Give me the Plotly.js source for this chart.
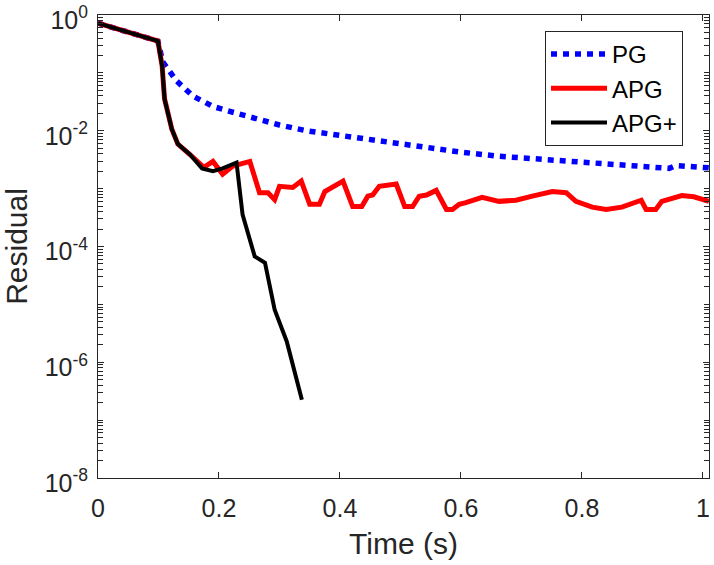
<!DOCTYPE html>
<html>
<head>
<meta charset="utf-8">
<script src="https://cdn.plot.ly/plotly-3.0.1.min.js"></script>
<style>html,body{margin:0;padding:0;background:#fff;}#chart{width:714px;height:565px;}</style>
</head>
<body>
<div id="chart"></div>
<script>
// ---- data ----
const pgTime = [0, 0.05, 0.099, 0.107, 0.13, 0.157, 0.19, 0.223, 0.262, 0.30, 0.345, 0.40, 0.444, 0.50, 0.553, 0.60, 0.663, 0.72, 0.774, 0.83, 0.883, 0.944, 0.955, 1.01];
const pgResidual = [0.724, 0.501, 0.355, 0.155, 0.0724, 0.0398, 0.0263, 0.0209, 0.0158, 0.0126, 0.0100, 0.00832, 0.00708, 0.00589, 0.00513, 0.00427, 0.00363, 0.00331, 0.00302, 0.00275, 0.00251, 0.00224, 0.00251, 0.00229];

const apgTime = [0, 0.05, 0.099, 0.106, 0.110, 0.122, 0.132, 0.152, 0.165, 0.175, 0.19, 0.206, 0.223, 0.251, 0.267, 0.281, 0.292, 0.30, 0.322, 0.336, 0.350, 0.366, 0.375, 0.388, 0.405, 0.421, 0.436, 0.446, 0.454, 0.465, 0.493, 0.507, 0.520, 0.531, 0.543, 0.559, 0.576, 0.586, 0.597, 0.608, 0.635, 0.663, 0.691, 0.718, 0.751, 0.774, 0.79, 0.817, 0.84, 0.866, 0.89, 0.898, 0.906, 0.922, 0.932, 0.965, 0.985, 1.01];
const apgResidual = [0.724, 0.501, 0.355, 0.132, 0.0355, 0.0107, 0.00589, 0.00389, 0.00282, 0.00234, 0.00295, 0.00178, 0.00245, 0.00295, 0.000851, 0.000851, 0.000646, 0.001096, 0.001047, 0.001349, 0.000537, 0.000537, 0.000891, 0.001047, 0.001349, 0.000490, 0.000490, 0.000741, 0.000776, 0.001096, 0.001202, 0.000490, 0.000490, 0.000741, 0.000776, 0.000933, 0.000437, 0.000437, 0.000537, 0.000575, 0.000708, 0.000603, 0.000631, 0.000741, 0.000891, 0.000851, 0.000603, 0.000479, 0.000437, 0.000479, 0.000575, 0.000631, 0.000437, 0.000437, 0.000603, 0.000759, 0.000724, 0.000603];

const apgPlusTime = [0, 0.05, 0.099, 0.106, 0.110, 0.122, 0.132, 0.152, 0.165, 0.172, 0.19, 0.206, 0.229, 0.239, 0.259, 0.276, 0.292, 0.312, 0.337];
const apgPlusResidual = [0.724, 0.501, 0.355, 0.132, 0.0355, 0.0107, 0.00589, 0.00389, 0.00282, 0.00224, 0.00200, 0.00224, 0.00282, 0.000355, 0.0000676, 0.0000525, 0.00000813, 0.00000229, 0.000000224];

const seriesNames = ['PG', 'APG', 'APG+'];
const xTickVals = [0, 0.2, 0.4, 0.6, 0.8, 1];
const xTickText = ['0', '0.2', '0.4', '0.6', '0.8', '1'];
const yTickVals = [1, 1e-2, 1e-4, 1e-6, 1e-8];
const yTickText = ['10<sup>0</sup>', '10<sup>-2</sup>', '10<sup>-4</sup>', '10<sup>-6</sup>', '10<sup>-8</sup>'];

const FONT = '"Liberation Sans", Arial, Helvetica, sans-serif';
const AXC = '#262626';

const traces = [
  {x: pgTime, y: pgResidual, name: seriesNames[0], mode: 'lines',
   line: {color: '#0000ff', width: 5.5, dash: '6px,6px'}},
  {x: apgTime, y: apgResidual, name: seriesNames[1], mode: 'lines',
   line: {color: '#ff0000', width: 5}},
  {x: apgPlusTime, y: apgPlusResidual, name: seriesNames[2], mode: 'lines',
   line: {color: '#000000', width: 4}}
];

const layout = {
  width: 714, height: 565,
  margin: {l: 98, r: 5, t: 15, b: 87},
  paper_bgcolor: '#fff', plot_bgcolor: '#fff',
  font: {family: FONT, color: AXC, size: 24},
  showlegend: true,
  legend: {
    x: 0.7316, y: 0.9654, xanchor: 'left', yanchor: 'top',
    bgcolor: '#fff', bordercolor: AXC, borderwidth: 1,
    font: {family: FONT, size: 24, color: '#000'},
    itemwidth: 56, tracegroupgap: 0
  },
  xaxis: {
    range: [0, 1.01], tickmode: 'array', tickvals: xTickVals, ticktext: xTickText,
    ticks: 'inside', ticklen: 6, tickcolor: AXC, tickwidth: 1,
    showline: true, linecolor: AXC, linewidth: 1, mirror: 'ticks',
    showgrid: false, zeroline: false,
    tickfont: {family: FONT, size: 25, color: AXC},
    ticklabelstandoff: 8, ticklabeloverflow: 'allow',
    title: {text: 'Time (s)', font: {family: FONT, size: 30, color: AXC}, standoff: 11}
  },
  yaxis: {
    type: 'log', range: [-8, 0.0005], tickmode: 'array', tickvals: yTickVals, ticktext: yTickText,
    ticks: 'inside', ticklen: 6, tickcolor: AXC, tickwidth: 1,
    showline: true, linecolor: AXC, linewidth: 1, mirror: 'ticks',
    showgrid: false, zeroline: false,
    tickfont: {family: FONT, size: 25, color: AXC},
    ticklabelstandoff: 4, ticklabeloverflow: 'allow', ticklabelshift: 5,
    minor: {tickmode: 'linear', dtick: 'D1', ticks: 'inside', ticklen: 5, tickcolor: AXC, showgrid: false},
    title: {text: 'Residual', font: {family: FONT, size: 30, color: AXC}, standoff: 16}
  }
};

Plotly.newPlot('chart', traces, layout, {displayModeBar: false, staticPlot: true});
</script>
</body>
</html>
